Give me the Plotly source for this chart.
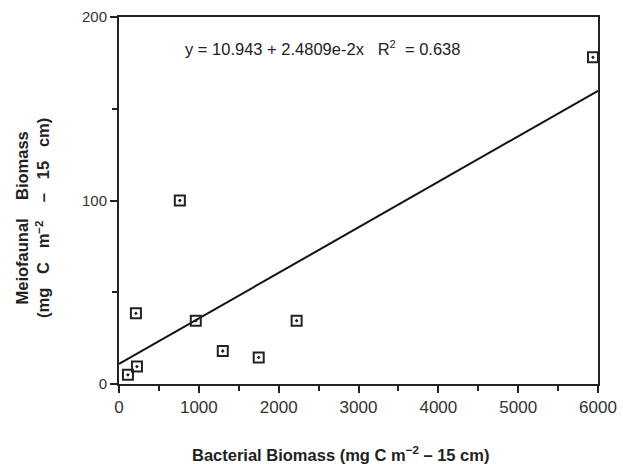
import plotly.graph_objects as go

bacterial = [112, 225, 212, 762, 962, 1300, 1750, 2225, 5937]
meiofauna = [5, 9.5, 38.5, 100, 34.5, 18, 14.5, 34.5, 178]
intercept = 10.943
slope = 2.4809e-2
line_x = [0, 6000]
line_y = [intercept + slope * v for v in line_x]

x_ticks = [0, 1000, 2000, 3000, 4000, 5000, 6000]
y_ticks = [0, 100, 200]

fig = go.Figure()
fig.add_trace(go.Scatter(x=line_x, y=line_y, mode="lines",
                         line=dict(color="#111", width=2), hoverinfo="skip"))
fig.add_trace(go.Scatter(x=bacterial, y=meiofauna, mode="markers",
                         marker=dict(symbol="square-open-dot", size=10, color="#222",
                                     line=dict(width=2, color="#222"))))

font = "Arial, Liberation Sans, Helvetica, sans-serif"
fig.update_layout(
    width=623, height=464,
    margin=dict(l=119, r=25, t=17, b=80),
    paper_bgcolor="white", plot_bgcolor="white",
    showlegend=False,
    font=dict(family=font, color="#222"),
    xaxis=dict(range=[0, 6000], tickvals=x_ticks, ticks="outside", ticklen=7,
               tickwidth=2, tickcolor="#222", showgrid=False, zeroline=False,
               showline=True, linecolor="#222", linewidth=2, mirror=True,
               automargin=False,
               tickfont=dict(size=17, family=font, color="#333"),
               minor=dict(dtick=500, ticks="outside", ticklen=5, tickwidth=1.5, tickcolor="#222")),
    yaxis=dict(range=[0, 200], tickvals=y_ticks, ticks="outside", ticklen=7,
               tickwidth=2, tickcolor="#222", showgrid=False, zeroline=False,
               showline=True, linecolor="#222", linewidth=2, mirror=True,
               automargin=False,
               tickfont=dict(size=15, family=font, color="#333"),
               minor=dict(dtick=50, ticks="outside", ticklen=5, tickwidth=1.5, tickcolor="#222")),
    annotations=[
        dict(text="y = 10.943 + 2.4809e-2x   R<span style='font-size:16px'><sup>2</sup></span>  = 0.638",
             x=322, y=48, showarrow=False, font=dict(size=16.5, color="#222"),
             xanchor="center", yanchor="middle"),
        dict(text="<b>Bacterial Biomass (mg C m<sup>−2</sup> – 15 cm)</b>",
             x=340, y=454, showarrow=False, font=dict(size=16.5, color="#222"),
             xanchor="center", yanchor="middle"),
        dict(text="<b>Meiofaunal    Biomass<br>(mg   C   m<sup>−2</sup>    –   15   cm)</b>",
             x=32, y=218, showarrow=False, textangle=-90, font=dict(size=16.5, color="#222"),
             xanchor="center", yanchor="middle"),
    ],
)
# convert pixel-placed annotations to paper coords
W, H = 623, 464
l, r, t, b = 119, 25, 17, 80
pw, ph = W - l - r, H - t - b
for a in fig.layout.annotations:
    a.xref = "paper"
    a.yref = "paper"
    a.x = (a.x - l) / pw
    a.y = (H - b - a.y) / ph

fig.write_html("out.html")
